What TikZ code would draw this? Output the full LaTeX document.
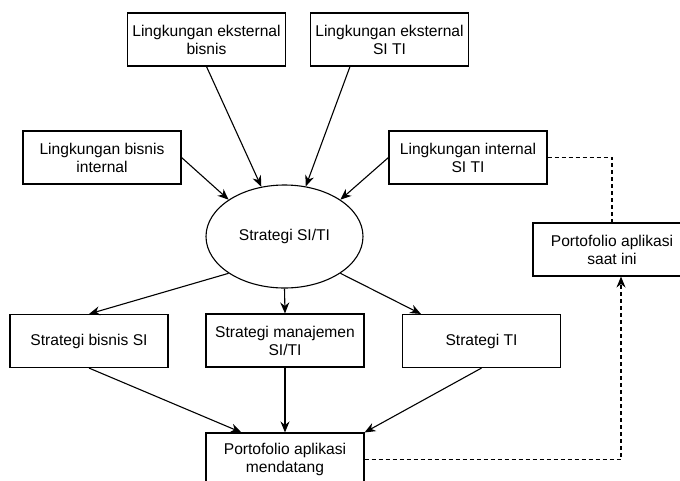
\documentclass[tikz,border=0pt]{standalone}
\usepackage{fontspec}
\setmainfont{Liberation Sans}
\usetikzlibrary{shapes.geometric,arrows.meta,calc}
\begin{document}
\begin{tikzpicture}[x=1pt,y=-1pt,
  box/.style={draw, line width=1.1pt, minimum width=158pt, minimum height=53pt, inner sep=0pt, align=center, font=\fontsize{15.6}{18}\selectfont},
  ellnode/.style={draw, ellipse, line width=1.1pt, minimum width=157pt, minimum height=103pt, inner sep=0pt, align=center, font=\fontsize{15.6}{18}\selectfont},
  conn/.style={line width=1.1pt, -{Stealth[length=11pt,width=9pt]}},
  dashline/.style={line width=1.1pt, dash pattern=on 4pt off 3pt}]
\useasboundingbox (0,0) rectangle (680,480);
\clip (0,0) rectangle (680,480);
\node[box] (leb) at (206.5,39.5) {Lingkungan eksternal\\bisnis};
\node[box] (les) at (389.5,39.5) {Lingkungan eksternal\\SI TI};
\node[box] (lbi) at (102,157.5) {Lingkungan bisnis\\internal};
\node[box] (lit) at (468,157.5) {Lingkungan internal\\SI TI};
\node[ellnode] (st) at (284.5,236.5) {Strategi SI/TI};
\node[box] (sai) at (612,249.5) {Portofolio aplikasi\\saat ini};
\node[box] (sbs) at (89,341) {Strategi bisnis SI};
\node[box] (smj) at (285,340.5) {Strategi manajemen\\SI/TI};
\node[box] (sti) at (481.5,341) {Strategi TI};
\node[box] (pam) at (285,459.5) {Portofolio aplikasi\\mendatang};
\draw[conn] (leb.south) -- (st.115);
\draw[conn] ($(les.south)+(-39.5,0)$) -- (st.67);
\draw[conn] (lbi.east) -- (st.north west);
\draw[conn] (lit.west) -- (st.north east);
\draw[conn] (st.south west) -- (sbs.north);
\draw[conn] (st.south) -- (smj.north);
\draw[conn] (st.south east) -- ($(sti.north west)+(19,0)$);
\draw[conn] (sbs.south) -- ($(pam.north west)+(36,0)$);
\draw[conn] (smj.south) -- (pam.north);
\draw[conn] (sti.south) -- (pam.north east);
\draw[dashline] (lit.east) -| (sai.north);
\draw[dashline, -{Stealth[length=11pt,width=9pt]}] (pam.east) -| ($(sai.south)+(9,0)$);
\end{tikzpicture}
\end{document}
